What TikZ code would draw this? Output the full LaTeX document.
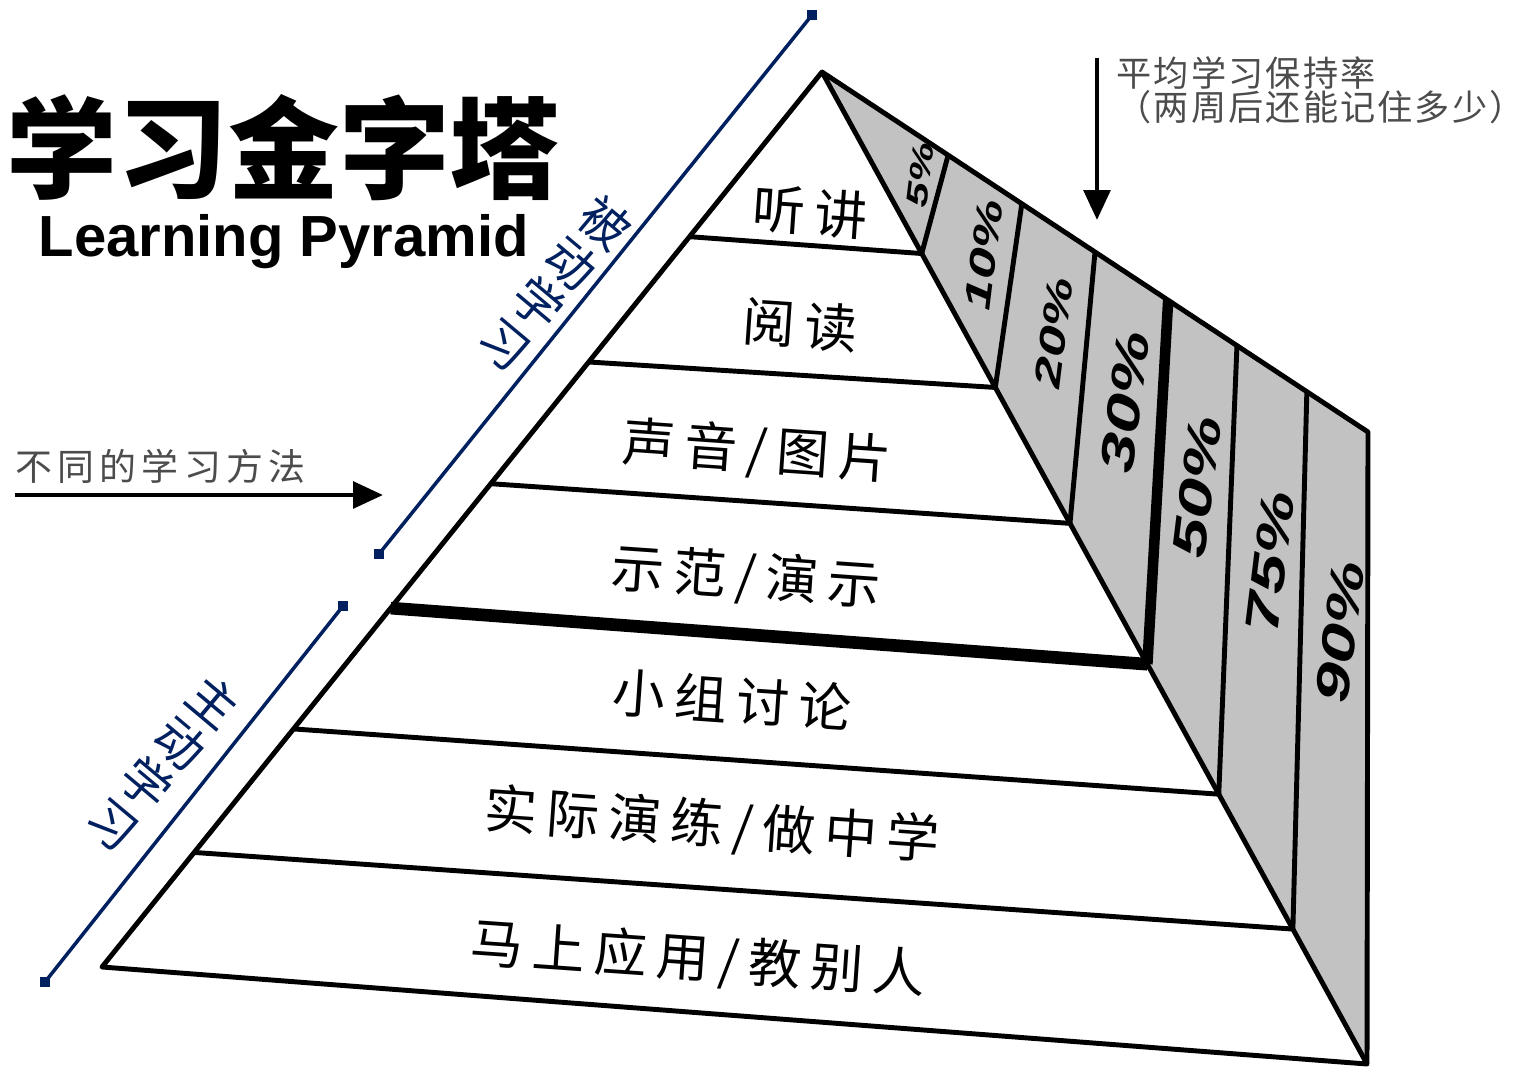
\documentclass[tikz,border=0pt]{standalone}
\usepackage{graphicx}
\usepackage{fontspec}
\setmainfont{Liberation Sans}
\newfontfamily\cjk{Noto Sans CJK SC}
\usetikzlibrary{calc}
\usetikzlibrary{arrows.meta}

\definecolor{navyblue}{HTML}{002060}
\definecolor{facegray}{gray}{0.76}
\definecolor{notegray}{gray}{0.3}

\tikzset{
  pyrline/.style={line width=1.4pt},
  levelname/.style={font=\cjk\fontsize{15}{17}\selectfont\addfontfeature{LetterSpace=18}, rotate=-4},
  pct/.style={font=\bfseries\itshape, rotate=83, inner sep=0pt},
  note/.style={font=\cjk\fontsize{10}{9.6}\selectfont\addfontfeature{LetterSpace=6}, text=notegray, inner sep=0pt, align=left},
  sidelabel/.style={text=navyblue, font=\cjk\fontsize{14}{15}\selectfont, rotate=-40, align=center, inner sep=0pt},
  endsq/.style={fill=navyblue, minimum size=3pt, inner sep=0pt},
  bracket/.style={navyblue, line width=1pt},
  pointer/.style={line width=1.3pt, -{Triangle[length=8.5pt,width=7.5pt]}}
}

\begin{document}
\begin{tikzpicture}[x=0.01cm, y=-0.01cm, line join=round]
\useasboundingbox (0,0) rectangle (1539,1073);

% Pyramid corners
\coordinate (apex) at (822,72);
\coordinate (baseL) at (102,967);
\coordinate (baseR) at (1367,1064);
\coordinate (sideTop) at (1368,432);

% Side face
\fill[facegray] (apex) -- (sideTop) -- (baseR) -- cycle;

% Layer lines of the front face
\foreach \fl/\fr/\w [count=\i] in {0.184/0.183/1.4pt, 0.324/0.318/1.4pt, 0.460/0.455/1.4pt, 0.599/0.597/3.6pt, 0.734/0.728/1.4pt, 0.872/0.864/1.4pt} {
    \draw[line width=\w] ($(apex)!\fl!(baseL)$) coordinate (l\i) -- ($(apex)!\fr!(baseR)$) coordinate (r\i);
}

% Dividers of the side face
\foreach \t/\w [count=\i] in {0.231/1.4pt, 0.366/1.4pt, 0.5/1.4pt, 0.634/3pt, 0.760/1.4pt, 0.888/1.4pt} {
    \draw[line width=\w] ($(apex)!\t!(sideTop)$) coordinate (t\i) -- (r\i);
}

% Outlines
\draw[pyrline] (apex) -- (baseL) -- (baseR) -- cycle;
\draw[pyrline] (apex) -- (sideTop) -- (baseR);

% Level names
\node[levelname] (lecture) at (810,212) {听讲};
\node[levelname] (reading) at (800,325) {阅读};
\node[levelname] (audiovisual) at (757,452) {声音/图片};
\node[levelname] (demo) at (746,578) {示范/演示};
\node[levelname] (discussion) at (732,700) {小组讨论};
\node[levelname] (practice) at (712,826) {实际演练/做中学};
\node[levelname] (teach) at (698,960) {马上应用/教别人};

% Retention rates
\foreach \p/\s/\x/\y in {5/8.5/920/175, 10/10.5/984/255, 20/10.5/1054/333, 30/13.5/1125/402, 50/13.5/1197/487, 75/13.5/1270/562, 90/13.5/1340/632} {
    \node[pct] (p\p) at (\x,\y) {\fontsize{\s}{\s}\selectfont\scalebox{1.5}[1]{\p\%}};
}

% Title
\node[font=\cjk\bfseries\fontsize{31.5}{34}\selectfont, anchor=west, inner sep=0pt] (title) at (6,148) {学习金字塔};
\node[font=\bfseries\fontsize{16.5}{20}\selectfont, anchor=base west, inner sep=0pt] (subtitle) at (38,257) {Learning Pyramid};

% Retention note and arrow
\node[note, anchor=north west] (retention) at (1116,56) {平均学习保持率\\（两周后还能记住多少）};
\coordinate (retStart) at (1097,58);
\coordinate (retEnd) at (1097,220);
\draw[pointer] (retStart) -- (retEnd);

% Methods note and arrow
\node[note, font=\cjk\fontsize{10.5}{12}\selectfont\addfontfeature{LetterSpace=14}, anchor=south west] (methods) at (15,484) {不同的学习方法};
\coordinate (methStart) at (15,495);
\coordinate (methEnd) at (383,495);
\draw[pointer] (methStart) -- (methEnd);

% Passive and active brackets
\node[endsq] (passiveTop) at (812,15) {};
\node[endsq] (passiveBot) at (379,554) {};
\node[endsq] (activeTop) at (343,606) {};
\node[endsq] (activeBot) at (45,982) {};
\draw[bracket] (passiveBot.center) -- (passiveTop.center);
\draw[bracket] (activeBot.center) -- (activeTop.center);
\node[sidelabel] (passive) at (555,283) {被\\动\\学\\习};
\node[sidelabel] (active) at (163,763) {主\\动\\学\\习};

\end{tikzpicture}
\end{document}
